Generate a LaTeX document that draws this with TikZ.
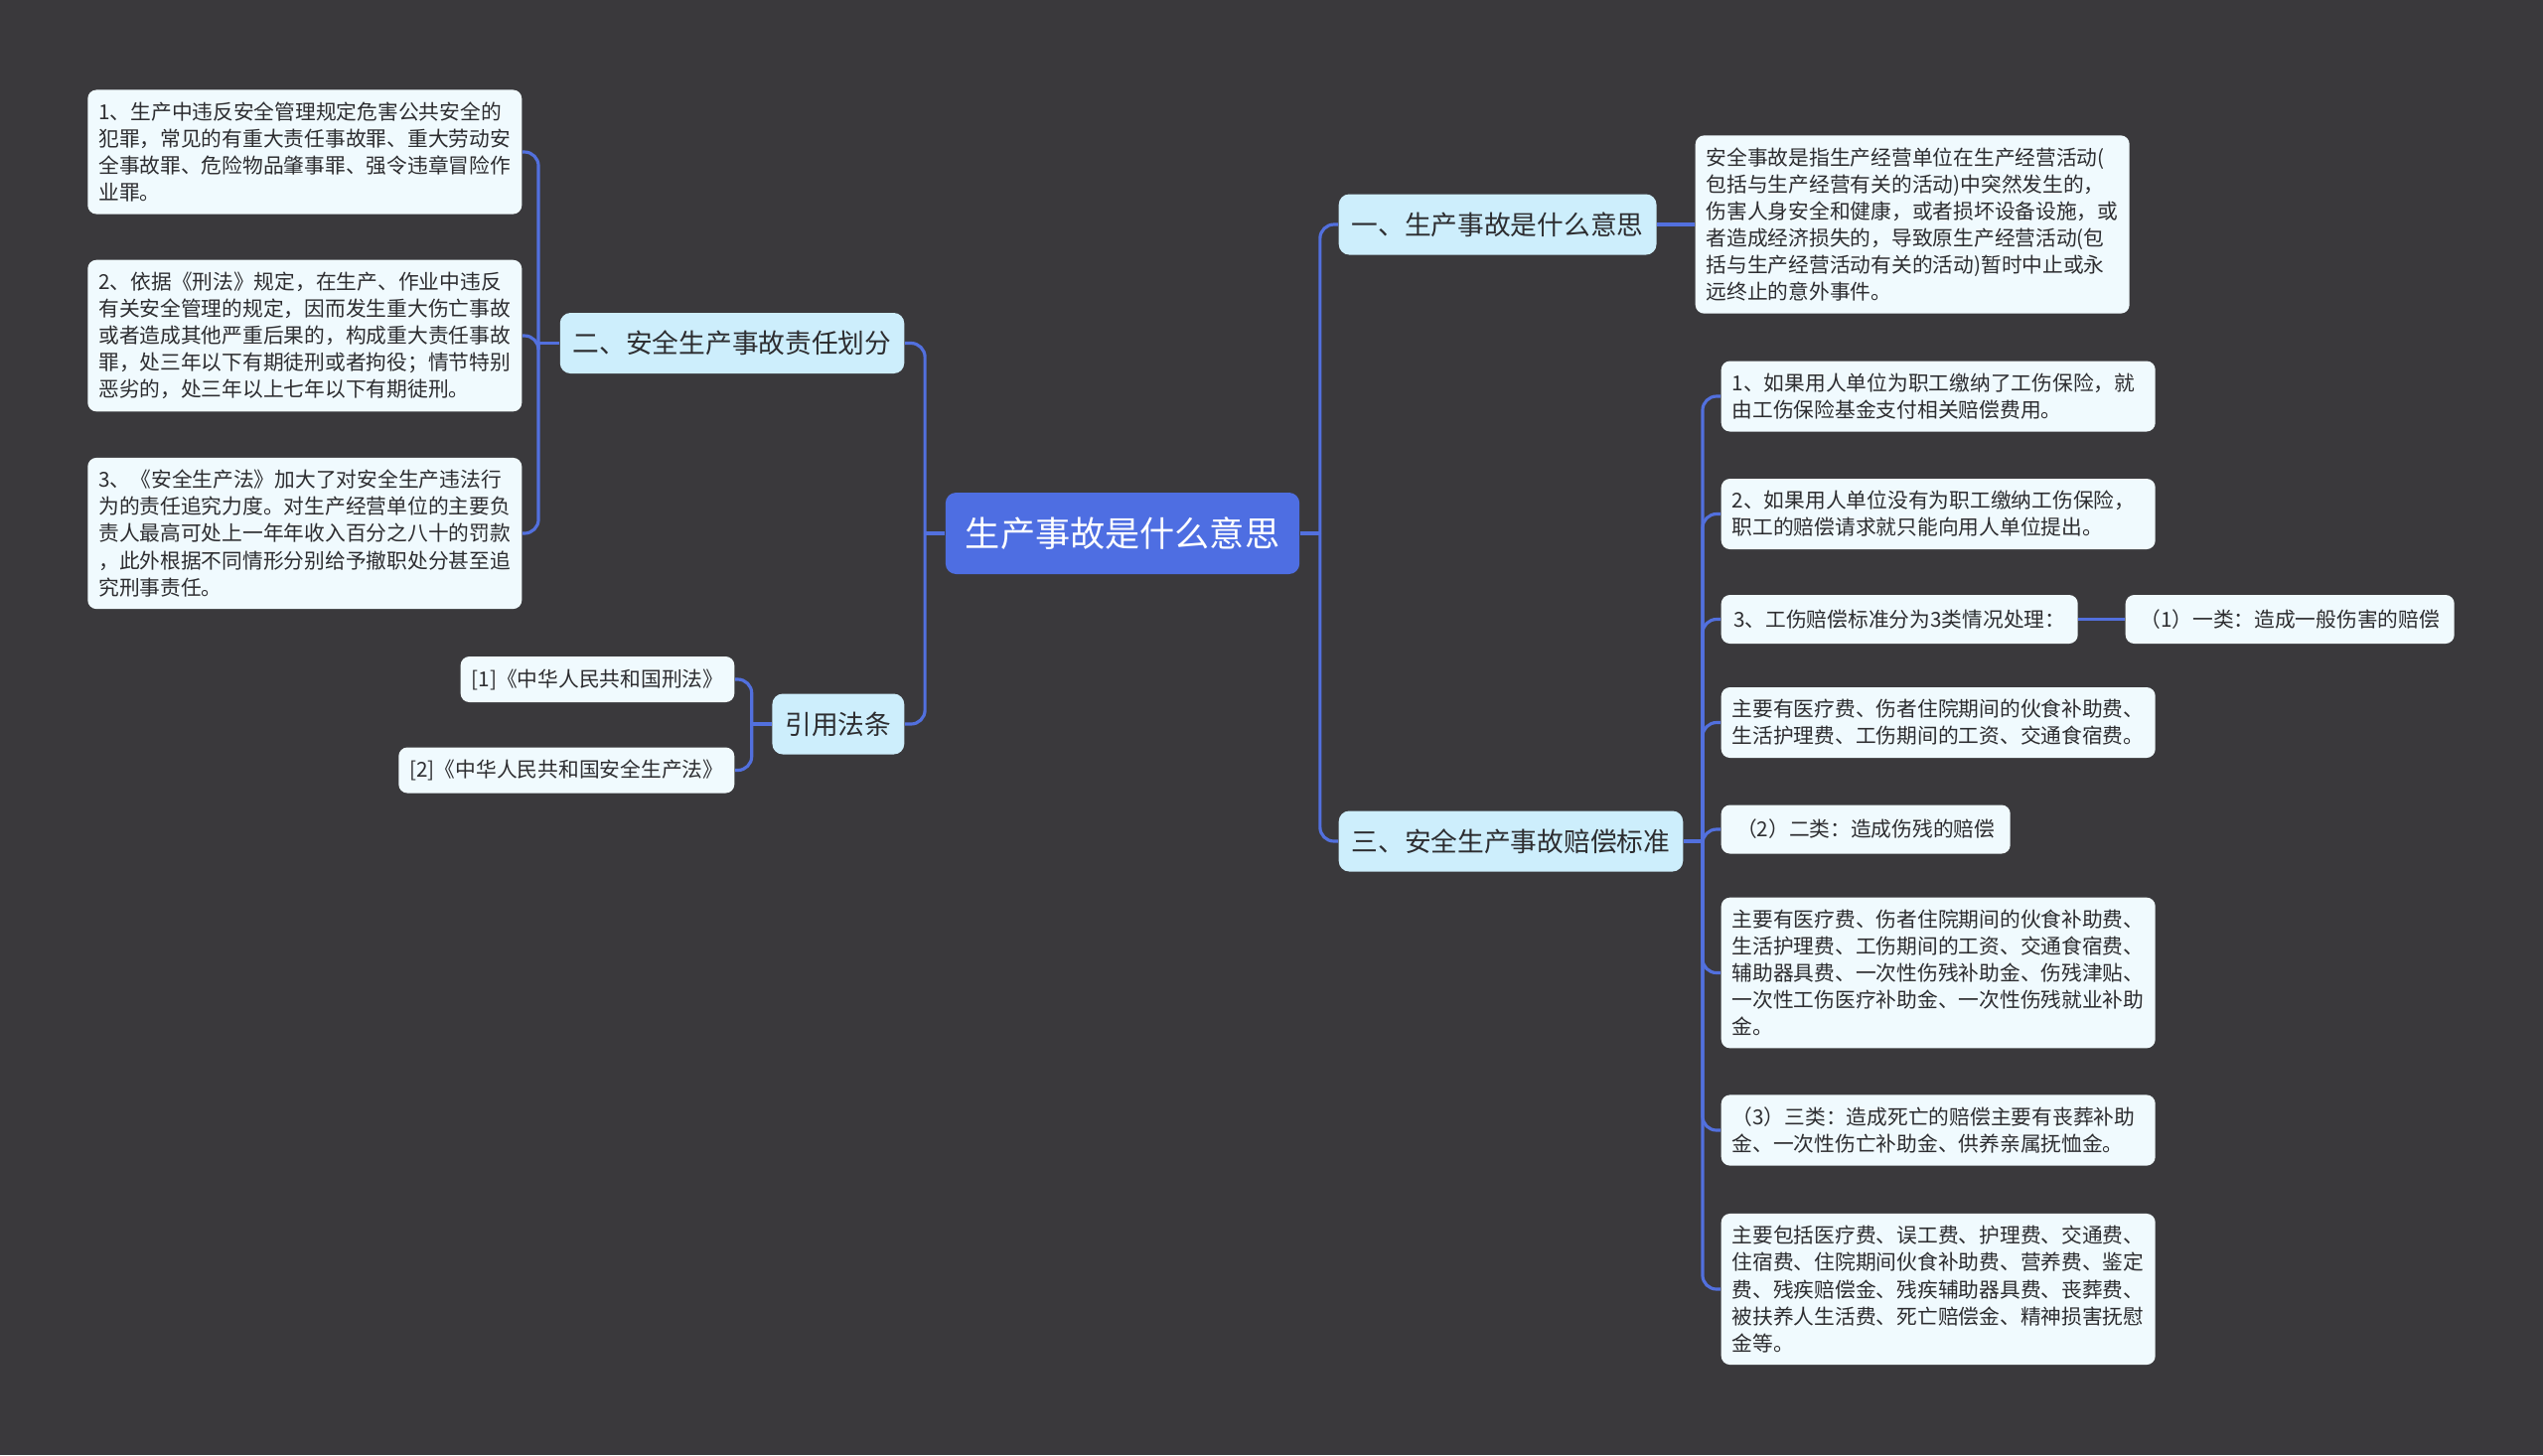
\documentclass[tikz,border=0pt]{standalone}
\usepackage{fontspec}
\setmainfont{Noto Sans CJK SC}
\definecolor{bgdark}{RGB}{58, 57, 60}
\definecolor{rootblue}{RGB}{78, 110, 226}
\definecolor{topicfill}{RGB}{205, 238, 252}
\definecolor{leaffill}{RGB}{240, 250, 254}
\definecolor{linkblue}{RGB}{82, 112, 222}
\definecolor{ink}{RGB}{45, 45, 48}
\usepackage{tikz}

\begin{document}
\begin{tikzpicture}[
  rootbox/.style={fill=rootblue, text=white, rounded corners=3pt, inner xsep=0.2cm, minimum height=0.82cm, font=\fontsize{10}{12}\selectfont},
  topic/.style={fill=topicfill, text=ink, rounded corners=3pt, inner xsep=0.13cm, minimum height=0.61cm, font=\fontsize{7.6}{9}\selectfont},
  leaf/.style={fill=leaffill, text=ink, rounded corners=2.5pt, inner xsep=0.11cm, inner ysep=3.5pt, align=left, minimum height=0.49cm, font=\fontsize{5.9}{7.7}\selectfont},
  leafwide/.style={leaf, text width=4.15cm},
  link/.style={draw=linkblue, line width=0.9pt, rounded corners=4pt}
]
  \fill[bgdark] (0,0) rectangle (25.6,-14.65);

  \node[rootbox] (root) at (11.30,-5.37) {生产事故是什么意思};

  % left side
  \node[topic, anchor=east] (duty) at (9.11,-3.455) {二、安全生产事故责任划分};
  \node[topic, anchor=east] (law) at (9.11,-7.29) {引用法条};
  \node[leafwide, anchor=east] (crime) at (5.26,-1.53) {1、生产中违反安全管理规定危害公共安全的\\犯罪，常见的有重大责任事故罪、重大劳动安\\全事故罪、危险物品肇事罪、强令违章冒险作\\业罪。};
  \node[leafwide, anchor=east] (penal) at (5.26,-3.38) {2、依据《刑法》规定，在生产、作业中违反\\有关安全管理的规定，因而发生重大伤亡事故\\或者造成其他严重后果的，构成重大责任事故\\罪，处三年以下有期徒刑或者拘役；情节特别\\恶劣的，处三年以上七年以下有期徒刑。};
  \node[leafwide, anchor=east] (safety) at (5.26,-5.37) {3、《安全生产法》加大了对安全生产违法行\\为的责任追究力度。对生产经营单位的主要负\\责人最高可处上一年年收入百分之八十的罚款\\，此外根据不同情形分别给予撤职处分甚至追\\究刑事责任。};
  \node[leaf, anchor=east, align=center, minimum width=2.75cm, minimum height=0.46cm] (ref1) at (7.40,-6.84) {[1]《中华人民共和国刑法》};
  \node[leaf, anchor=east, align=center, minimum width=3.38cm, minimum height=0.46cm] (ref2) at (7.40,-7.755) {[2]《中华人民共和国安全生产法》};

  % right side
  \node[topic, anchor=west] (what) at (13.47,-2.26) {一、生产事故是什么意思};
  \node[topic, anchor=west] (comp) at (13.47,-8.47) {三、安全生产事故赔偿标准};
  \node[leafwide, anchor=west] (define) at (17.06,-2.26) {安全事故是指生产经营单位在生产经营活动(\\包括与生产经营有关的活动)中突然发生的，\\伤害人身安全和健康，或者损坏设备设施，或\\者造成经济损失的，导致原生产经营活动(包\\括与生产经营活动有关的活动)暂时中止或永\\远终止的意外事件。};
  \node[leafwide, anchor=west] (insured) at (17.32,-3.99) {1、如果用人单位为职工缴纳了工伤保险，就\\由工伤保险基金支付相关赔偿费用。};
  \node[leafwide, anchor=west] (uninsured) at (17.32,-5.175) {2、如果用人单位没有为职工缴纳工伤保险，\\职工的赔偿请求就只能向用人单位提出。};
  \node[leaf, anchor=west, minimum width=3.59cm] (classes) at (17.32,-6.235) {3、工伤赔偿标准分为3类情况处理：};
  \node[leaf, anchor=west, minimum width=3.31cm] (classone) at (21.39,-6.235) {（1）一类：造成一般伤害的赔偿};
  \node[leafwide, anchor=west] (costone) at (17.32,-7.275) {主要有医疗费、伤者住院期间的伙食补助费、\\生活护理费、工伤期间的工资、交通食宿费。};
  \node[leaf, anchor=west, minimum width=2.91cm] (classtwo) at (17.32,-8.35) {（2）二类：造成伤残的赔偿};
  \node[leafwide, anchor=west] (costtwo) at (17.32,-9.795) {主要有医疗费、伤者住院期间的伙食补助费、\\生活护理费、工伤期间的工资、交通食宿费、\\辅助器具费、一次性伤残补助金、伤残津贴、\\一次性工伤医疗补助金、一次性伤残就业补助\\金。};
  \node[leafwide, anchor=west] (classthree) at (17.32,-11.38) {（3）三类：造成死亡的赔偿主要有丧葬补助\\金、一次性伤亡补助金、供养亲属抚恤金。};
  \node[leafwide, anchor=west] (costthree) at (17.32,-12.98) {主要包括医疗费、误工费、护理费、交通费、\\住宿费、住院期间伙食补助费、营养费、鉴定\\费、残疾赔偿金、残疾辅助器具费、丧葬费、\\被扶养人生活费、死亡赔偿金、精神损害抚慰\\金等。};

  % trunks
  \draw[link] (root.west) -- ++(-0.2,0) coordinate (rootleft);
  \draw[link] (root.east) -- ++(0.2,0) coordinate (rootright);
  \draw[link] (duty.west) -- ++(-0.21,0) coordinate (dutyfork);
  \draw[link] (law.west) -- ++(-0.2,0) coordinate (lawfork);
  \draw[link] (comp.east) -- ++(0.19,0) coordinate (compfork);

  \foreach \topicname in {duty, law}
    \draw[link] (rootleft) |- (\topicname.east);
  \foreach \topicname in {what, comp}
    \draw[link] (rootright) |- (\topicname.west);
  \foreach \leafname in {crime, penal, safety}
    \draw[link] (dutyfork) |- (\leafname.east);
  \foreach \leafname in {ref1, ref2}
    \draw[link] (lawfork) |- (\leafname.east);
  \draw[link] (what.east) -- (define.west);
  \foreach \leafname in {insured, uninsured, classes, costone, classtwo, costtwo, classthree, costthree}
    \draw[link] (compfork) |- (\leafname.west);
  \draw[link] (classes.east) -- (classone.west);
\end{tikzpicture}
\end{document}
